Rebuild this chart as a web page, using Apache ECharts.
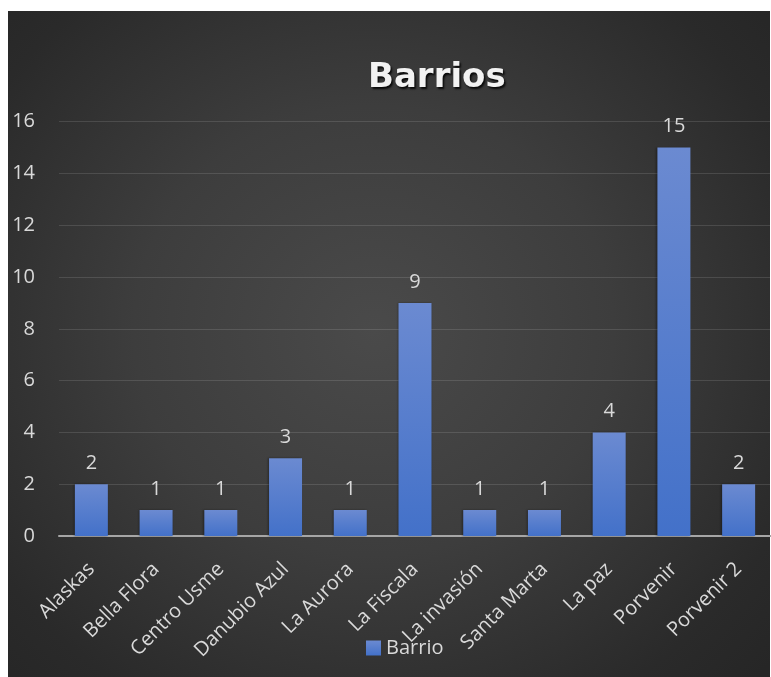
<!DOCTYPE html>
<html>
<head>
<meta charset="utf-8">
<script src="https://cdn.jsdelivr.net/npm/echarts@6/dist/echarts.min.js"></script>
<style>
  html, body { margin: 0; padding: 0; background: #ffffff; }
  #panel {
    position: absolute; left: 8px; top: 11px; width: 762px; height: 666px;
    background: radial-gradient(ellipse 70% 75% at 48% 48%, #4a4a4a 0%, #3d3d3d 45%, #2a2a2a 85%, #262626 100%);
  }
  #chart { position: absolute; left: 0; top: 0; width: 771px; height: 677px; }
</style>
</head>
<body>
<div id="panel"></div>
<div id="chart"></div>
<script>
// Neighbourhood counts
const categories = ['Alaskas', 'Bella Flora', 'Centro Usme', 'Danubio Azul', 'La Aurora',
  'La Fiscala', 'La invasión', 'Santa Marta', 'La paz', 'Porvenir', 'Porvenir 2'];
const barrioValues = [2, 1, 1, 3, 1, 9, 1, 1, 4, 15, 2];
const yTicks = { min: 0, max: 16, interval: 2 };

const textColor = '#d9d9d9';
const fontFamily = '"Open Sans", "Noto Sans", sans-serif';
const fontSize = 20;

const chart = echarts.init(document.getElementById('chart'), null, { renderer: 'canvas' });
chart.setOption({
  backgroundColor: 'transparent',
  animation: false,
  title: {
    text: 'Barrios',
    left: 363,
    top: 56,
    textStyle: {
      fontFamily: '"DejaVu Sans", sans-serif',
      fontWeight: 'bold',
      fontSize: 34,
      color: '#f2f2f2',
      textShadowColor: 'rgba(0,0,0,0.85)',
      textShadowBlur: 2,
      textShadowOffsetX: 1.5,
      textShadowOffsetY: 2
    }
  },
  legend: {
    data: ['Barrio'],
    left: 361,
    top: 633,
    itemWidth: 15,
    itemHeight: 15,
    itemGap: 6,
    icon: 'rect',
    textStyle: { color: textColor, fontSize: fontSize, fontFamily: fontFamily, padding: [0, 0, 0, 0] }
  },
  grid: { left: 59, right: -4, top: 121.7, bottom: 141, containLabel: false },
  xAxis: {
    type: 'category',
    data: categories,
    axisLine: { show: true, lineStyle: { color: '#a6a6a6', width: 2 } },
    axisTick: { show: false },
    axisLabel: {
      color: textColor,
      fontSize: fontSize,
      fontFamily: fontFamily,
      rotate: 45,
      margin: 30,
      interval: 0
    }
  },
  yAxis: {
    type: 'value',
    min: yTicks.min,
    max: yTicks.max,
    interval: yTicks.interval,
    axisLine: { show: false },
    axisTick: { show: false },
    splitLine: { lineStyle: { color: 'rgba(255,255,255,0.12)', width: 1 } },
    axisLabel: { color: textColor, fontSize: fontSize, fontFamily: fontFamily, margin: 24 }
  },
  series: [{
    name: 'Barrio',
    type: 'bar',
    data: barrioValues,
    barWidth: 33,
    itemStyle: {
      color: new echarts.graphic.LinearGradient(0, 0, 0, 1, [
        { offset: 0, color: '#6b8ad1' },
        { offset: 1, color: '#4371c9' }
      ]),
      shadowColor: 'rgba(0,0,0,0.35)',
      shadowBlur: 2,
      shadowOffsetX: -1,
      shadowOffsetY: 0
    },
    label: {
      show: true,
      position: 'top',
      distance: 11,
      color: textColor,
      fontSize: fontSize,
      fontFamily: fontFamily
    }
  }]
});
</script>
</body>
</html>
